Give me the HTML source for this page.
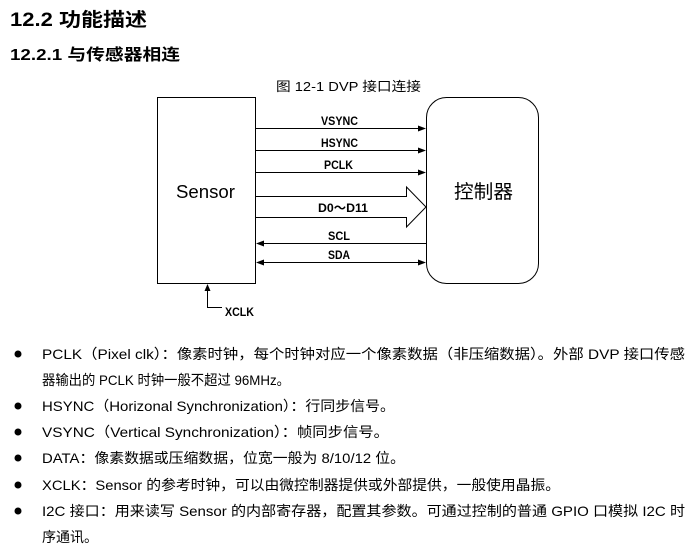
<!DOCTYPE html>
<html><head><meta charset="utf-8"><style>
html,body{margin:0;padding:0;background:#fff;}
svg{display:block}
text{font-family:"Liberation Sans","Noto Sans CJK SC",sans-serif;fill:#000}
</style></head><body>
<svg width="697" height="560" viewBox="0 0 697 560" xmlns="http://www.w3.org/2000/svg">
<text x="10" y="26" font-size="19" font-weight="bold" textLength="137" lengthAdjust="spacingAndGlyphs">12.2 功能描述</text>
<text x="10" y="60" font-size="16" font-weight="bold" textLength="170" lengthAdjust="spacingAndGlyphs">12.2.1 与传感器相连</text>
<text x="276" y="91" font-size="13" textLength="145" lengthAdjust="spacingAndGlyphs">图 12-1 DVP 接口连接</text>
<g stroke="#000" stroke-width="1" fill="none">
<rect x="157.5" y="97.5" width="98" height="186"/>
<rect x="426.5" y="97.5" width="112" height="186" rx="20"/>
<line x1="256" y1="128.5" x2="420" y2="128.5"/>
<line x1="256" y1="150.5" x2="420" y2="150.5"/>
<line x1="256" y1="172.5" x2="420" y2="172.5"/>
<polyline points="256,196.5 406.5,196.5 406.5,187 426,207 406.5,227 406.5,217.5 256,217.5"/>
<line x1="262" y1="243.5" x2="426" y2="243.5"/>
<line x1="262" y1="262.5" x2="420" y2="262.5"/>
<polyline points="207.5,290 207.5,307.5 222,307.5"/>
</g>
<g fill="#000">
<polygon points="426,128.5 418,125.5 418,131.5"/>
<polygon points="426,150.5 418,147.5 418,153.5"/>
<polygon points="426,172.5 418,169.5 418,175.5"/>
<polygon points="256,243.5 264,240.5 264,246.5"/>
<polygon points="256,262.5 264,259.5 264,265.5"/>
<polygon points="426,262.5 418,259.5 418,265.5"/>
<polygon points="207.5,284 204.5,291 210.5,291"/>
</g>
<text x="321" y="125" font-size="12" font-weight="bold" textLength="37" lengthAdjust="spacingAndGlyphs">VSYNC</text>
<text x="321" y="147" font-size="12" font-weight="bold" textLength="37" lengthAdjust="spacingAndGlyphs">HSYNC</text>
<text x="324" y="169" font-size="12" font-weight="bold" textLength="29" lengthAdjust="spacingAndGlyphs">PCLK</text>
<text x="318" y="212" font-size="12" font-weight="bold" textLength="50" lengthAdjust="spacingAndGlyphs">D0～D11</text>
<text x="328" y="240" font-size="12" font-weight="bold" textLength="22" lengthAdjust="spacingAndGlyphs">SCL</text>
<text x="328" y="259" font-size="12" font-weight="bold" textLength="22" lengthAdjust="spacingAndGlyphs">SDA</text>
<text x="176" y="198" font-size="18" textLength="59" lengthAdjust="spacingAndGlyphs">Sensor</text>
<text x="454" y="198" font-size="19" textLength="59" lengthAdjust="spacingAndGlyphs">控制器</text>
<text x="225" y="316" font-size="12" font-weight="bold" textLength="29" lengthAdjust="spacingAndGlyphs">XCLK</text>
<g font-size="14">
<circle cx="18" cy="354" r="3.5"/>
<text x="42" y="359" textLength="643" lengthAdjust="spacingAndGlyphs">PCLK（Pixel clk）：像素时钟，每个时钟对应一个像素数据（非压缩数据）。外部 DVP 接口传感</text>
<text x="42" y="385" textLength="248" lengthAdjust="spacingAndGlyphs">器输出的 PCLK 时钟一般不超过 96MHz。</text>
<circle cx="18" cy="406" r="3.5"/>
<text x="42" y="411" textLength="353" lengthAdjust="spacingAndGlyphs">HSYNC（Horizonal Synchronization）：行同步信号。</text>
<circle cx="18" cy="432" r="3.5"/>
<text x="42" y="437" textLength="347" lengthAdjust="spacingAndGlyphs">VSYNC（Vertical Synchronization）：帧同步信号。</text>
<circle cx="18" cy="458" r="3.5"/>
<text x="42" y="463" textLength="363" lengthAdjust="spacingAndGlyphs">DATA：像素数据或压缩数据，位宽一般为 8/10/12 位。</text>
<circle cx="18" cy="485" r="3.5"/>
<text x="42" y="490" textLength="518" lengthAdjust="spacingAndGlyphs">XCLK：Sensor 的参考时钟，可以由微控制器提供或外部提供，一般使用晶振。</text>
<circle cx="18" cy="511" r="3.5"/>
<text x="42" y="516" textLength="643" lengthAdjust="spacingAndGlyphs">I2C 接口：用来读写 Sensor 的内部寄存器，配置其参数。可通过控制的普通 GPIO 口模拟 I2C 时</text>
<text x="42" y="542" textLength="56" lengthAdjust="spacingAndGlyphs">序通讯。</text>
</g>
</svg>
</body></html>
